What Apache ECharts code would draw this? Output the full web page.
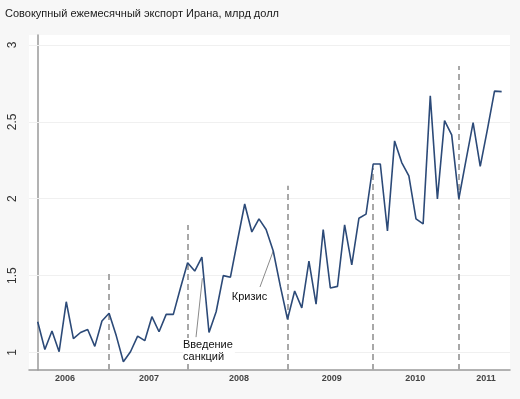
<!DOCTYPE html>
<html>
<head>
<meta charset="utf-8">
<script src="https://cdn.jsdelivr.net/npm/echarts@6/dist/echarts.min.js"></script>
<style>html,body{margin:0;padding:0;background:#f7f7f7;}#c{width:520px;height:399px;}</style>
</head>
<body>
<div id="c"></div>
<script>
// monthly export values, bn USD (index = month number from start)
var exportValues = [1.20,1.02,1.14,1.005,1.33,1.09,1.13,1.15,1.04,1.205,
  1.255,1.11,0.94,1.005,1.107,1.077,1.233,1.135,1.248,1.248,
  1.42,1.584,1.53,1.62,1.13,1.265,1.50,1.49,1.73,1.966,
  1.784,1.869,1.80,1.66,1.43,1.216,1.40,1.29,1.595,1.315,
  1.80,1.42,1.43,1.83,1.57,1.873,1.90,2.226,2.226,1.79,
  2.376,2.235,2.148,1.869,1.836,2.669,1.999,2.508,2.415,2.0,
  2.25,2.495,2.21,2.45,2.70,2.697];
var yearLabels = ['2006','2007','2008','2009','2010','2011'];
var yearLabelPos = [3.82,15.6,28.2,41.2,52.9,62.8];
var yTicks = [1,1.5,2,2.5,3];
var dividerIdx = [10,21,35,47,59];
var dividerTop = [1.517,1.83,2.084,2.20,2.864];
var annotations = [
  {text:'Кризис', pos:[27.2,1.407], from:[33,1.66], to:[31.14,1.426]},
  {text:'Введение\nсанкций', pos:[20.36,1.094], from:[23.07,1.483], to:[22.18,1.10]}
];

var yMin = 0.8862, yMax = 3.065, xMin = -1.22, xMax = 66.17;
var lineData = exportValues.map(function(v,i){return [i,v];});

var chart = echarts.init(document.getElementById('c'));
chart.setOption({
  backgroundColor:'#f7f7f7',
  animation:false,
  title:{text:'Совокупный ежемесячный экспорт Ирана, млрд долл',left:0,top:3,
    textStyle:{fontSize:11,fontWeight:'normal',color:'#1a1a1a',fontFamily:'Liberation Sans, Arial, sans-serif'}},
  grid:{left:29,right:10,top:35,bottom:29,show:true,backgroundColor:'#ffffff',borderWidth:0},
  xAxis:{type:'value',min:xMin,max:xMax,
    axisLine:{lineStyle:{color:'#9a9a9a',width:1.5}},
    axisTick:{show:false},splitLine:{show:false},
    axisLabel:{customValues:yearLabelPos,margin:4,fontSize:9,fontWeight:'bold',color:'#444',
      fontFamily:'Liberation Sans, Arial, sans-serif',
      formatter:function(v){for(var i=0;i<yearLabelPos.length;i++){if(Math.abs(v-yearLabelPos[i])<0.01)return yearLabels[i];}return '';}}},
  yAxis:{type:'value',min:yMin,max:yMax,
    axisLine:{show:true,lineStyle:{color:'#9a9a9a',width:1.5}},
    axisTick:{show:true,customValues:yTicks,length:5,lineStyle:{color:'#9a9a9a'}},
    splitLine:{show:false},
    axisLabel:{customValues:yTicks,rotate:90,margin:10,fontSize:12,color:'#333',
      fontFamily:'Liberation Sans, Arial, sans-serif',formatter:function(v){return String(v);}}},
  series:[
    {type:'line',data:[],z:1,silent:true,
      markLine:{silent:true,symbol:['none','none'],z:1,label:{show:false},
        lineStyle:{color:'#f0f0f0',width:1,type:'solid'},
        data:yTicks.map(function(t){return {yAxis:t};})}},
    {type:'line',data:[],z:2,silent:true,
      markLine:{silent:true,symbol:['none','none'],z:2,label:{show:false},
        lineStyle:{color:'#a8a8a8',width:2,type:[6,4]},
        data:dividerIdx.map(function(ix,k){return [{coord:[ix,yMin]},{coord:[ix,dividerTop[k]]}];})}},
    {type:'line',data:[],z:3,silent:true,
      markLine:{silent:true,symbol:['none','none'],z:3,label:{show:false},
        lineStyle:{color:'#8a8a8a',width:1,type:'solid'},
        data:annotations.map(function(a){return [{coord:a.from},{coord:a.to}];})},
      markPoint:{silent:true,symbol:'circle',symbolSize:0,z:6,
        data:annotations.map(function(a){return {coord:a.pos,value:a.text,
          label:{show:true,position:[0,0],formatter:a.text,fontSize:11,color:'#111',lineHeight:12,
            fontFamily:'Liberation Sans, Arial, sans-serif',backgroundColor:'#ffffff',padding:[1,2,1,0]}};})}},
    {type:'line',data:lineData,z:5,symbol:'none',
      lineStyle:{color:'#2c4a78',width:1.6},silent:true}
  ]
});
</script>
</body>
</html>
